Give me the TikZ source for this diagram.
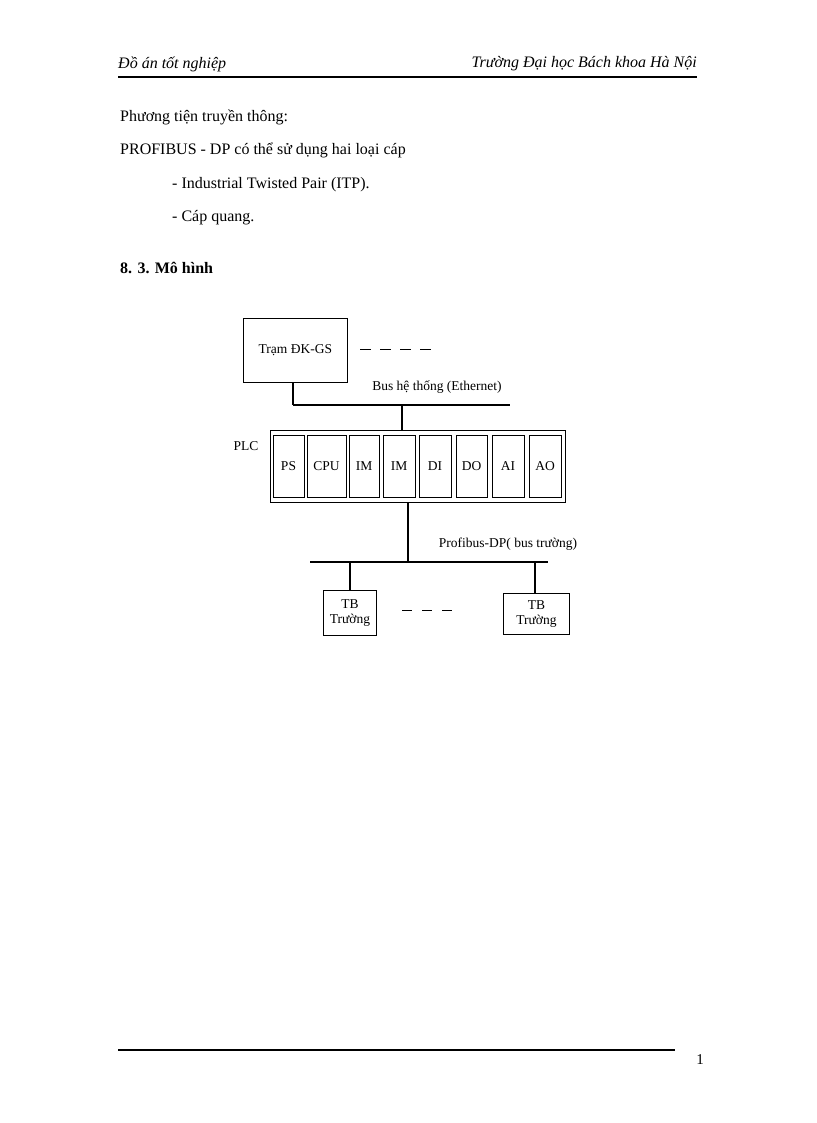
\documentclass[tikz,border=0pt]{standalone}
\usepackage{fontspec}
\setmainfont{Liberation Serif}
\begin{document}
\begin{tikzpicture}[x=1pt,y=-1pt,
  txt/.style={anchor=west,inner sep=0,font=\fontsize{16}{18}\selectfont},
  dtxt/.style={inner sep=0,font=\fontsize{13.5}{15}\selectfont},
  box/.style={draw,line width=0.8pt},
  bus/.style={line width=2.6pt},
  wire/.style={line width=2pt}]
\useasboundingbox (0,0) rectangle (816,1123);
% header
\node[txt,font=\fontsize{16}{18}\selectfont\itshape] (h1) at (118,64) {Đồ án tốt nghiệp};
\node[inner sep=0,anchor=east,font=\fontsize{16}{18}\selectfont\itshape] (h2) at (697,64) {Trường Đại học Bách khoa Hà Nội};
\draw[line width=1.5pt] (118,77) -- (697,77);
\node[txt] (t1) at (120,117) {Phương tiện truyền thông:};
\node[txt] (t2) at (120,150) {PROFIBUS - DP có thể sử dụng hai loại cáp};
\node[txt] (t3) at (172,185) {- Industrial Twisted Pair (ITP).};
\node[txt] (t4) at (172,218) {- Cáp quang.};
\node[txt,font=\fontsize{16}{18}\selectfont\bfseries] (t5) at (120,268) {8. 3. Mô hình};
% diagram
\node[box,minimum width=104,minimum height=64,dtxt,anchor=north west] (tram) at (243,318) {};
\node[dtxt] at (tram.center) {Trạm ĐK-GS};
\draw[line width=1pt,dash pattern=on 11pt off 9pt] (360,349) -- (440,349);
\node[dtxt] (lb1) at (437,387) {Bus hệ thống (Ethernet)};
\coordinate (e1) at (293,405); \coordinate (e2) at (510,405);
\draw[bus] (e1) -- (e2);
\draw[wire] (tram.south -| e1) -- (e1);
\node[box,minimum width=295,minimum height=72,anchor=north west] (plc) at (270,430) {};
\draw[wire] (402,405) -- (plc.north -| 402,0);
\node[dtxt] (plcl) at (246,446) {PLC};
\foreach \a/\b/\t [count=\i] in {273/304/PS,307/346/CPU,349/379/IM,383/415/IM,419/451/DI,456/487/DO,492/524/AI,529/561/AO}{
  \draw[line width=0.6pt] (\a,435) rectangle (\b,497);
  \node[dtxt] (m\i) at ({(\a+\b)/2},466) {\t};
}
\coordinate (p1) at (310,562); \coordinate (p2) at (548,562);
\draw[bus] (p1) -- (p2);
\draw[wire] (plc.south -| 408,0) -- (408,562);
\node[dtxt] (lb2) at (508,544) {Profibus-DP( bus trường)};
\node[box,minimum width=53,minimum height=45,anchor=north west] (tb1) at (323,590) {};
\node[dtxt,align=center,font=\fontsize{13.5}{15}\selectfont] at (tb1.center) {TB\\Trường};
\node[box,minimum width=66,minimum height=41,anchor=north west] (tb2) at (503,593) {};
\node[dtxt,align=center,font=\fontsize{13.5}{15}\selectfont] at (tb2.center) {TB\\Trường};
\draw[wire] (350,562) -- (tb1.north -| 350,0);
\draw[wire] (535,562) -- (tb2.north -| 535,0);
\draw[line width=1pt,dash pattern=on 10pt off 10pt] (402,610) -- (462,610);
% footer
\draw[line width=1.5pt] (118,1050) -- (675,1050);
\node[inner sep=0,font=\fontsize{15}{17}\selectfont] (pg) at (700,1060) {1};
\end{tikzpicture}
\end{document}
